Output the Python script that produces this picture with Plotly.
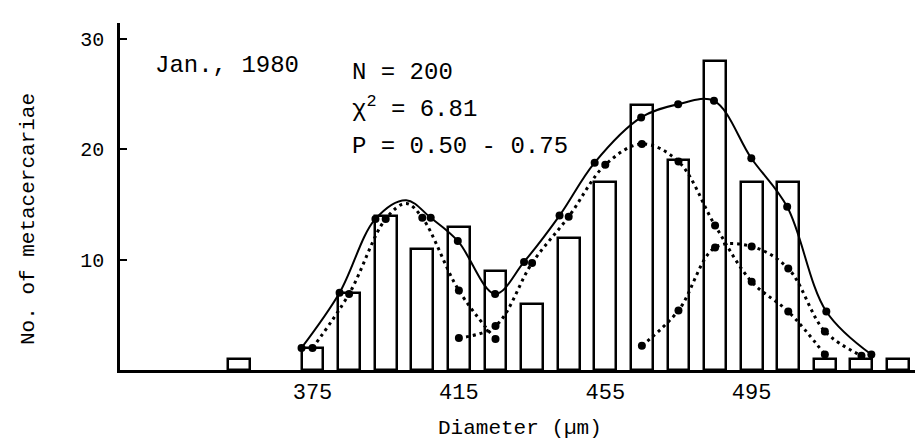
import plotly.graph_objects as go

# ---- data ----
classes = [355, 365, 375, 385, 395, 405, 415, 425, 435, 445, 455, 465, 475, 485, 495, 505, 515, 525, 535]
counts = [1, 0, 2, 7, 14, 11, 13, 9, 6, 12, 17, 24, 19, 28, 17, 17, 1, 1, 1]

# fitted total curve (dots as drawn)
total_x = [372.0, 382.4, 392.2, 407.3, 414.7, 424.9, 432.8, 442.5, 452.1, 464.8, 474.9, 484.7, 494.9, 504.7, 515.4, 527.7]
total_y = [2.0, 7.0, 13.7, 13.8, 11.7, 6.9, 9.8, 14.0, 18.8, 22.9, 24.1, 24.4, 19.2, 14.8, 5.3, 1.4]
total_peak_x = [400.6]
total_peak_y = [15.4]

# component 1
comp1_x = [375, 385, 395, 405, 415, 425]
comp1_y = [2.0, 6.9, 13.7, 13.8, 7.2, 2.8]
comp1_peak_x = [400.6]
comp1_peak_y = [15.1]

# component 2
comp2_x = [415, 425, 435, 445, 455, 465, 475, 485, 495, 505, 515]
comp2_y = [2.9, 4.0, 9.7, 13.9, 18.6, 20.5, 18.9, 13.1, 8.0, 5.3, 1.4]

# component 3
comp3_x = [465, 475, 485, 495, 505, 515, 525]
comp3_y = [2.2, 5.4, 11.1, 11.2, 9.2, 3.5, 1.3]

x_ticks = [375, 415, 455, 495]
y_ticks = [10, 20, 30]


def merged(xs, ys, px, py):
    pts = sorted(list(zip(xs, ys)) + list(zip(px, py)))
    return [p[0] for p in pts], [p[1] for p in pts]


MONO = "Liberation Mono, Courier New, monospace"
fig = go.Figure()

bar_x = [c for c, n in zip(classes, counts) if n > 0]
bar_y = [n for n in counts if n > 0]
fig.add_trace(go.Bar(x=bar_x, y=bar_y, width=6,
                     marker=dict(color="white", line=dict(color="black", width=2.5)),
                     showlegend=False, hoverinfo="skip"))

tcx, tcy = merged(total_x, total_y, total_peak_x, total_peak_y)
fig.add_trace(go.Scatter(x=tcx, y=tcy, mode="lines",
                         line=dict(color="black", width=2, shape="spline", smoothing=1.0),
                         showlegend=False))
fig.add_trace(go.Scatter(x=total_x, y=total_y, mode="markers",
                         marker=dict(color="black", size=8), showlegend=False))

c1x, c1y = merged(comp1_x, comp1_y, comp1_peak_x, comp1_peak_y)
for cx, cy, dx, dy in [(c1x, c1y, comp1_x, comp1_y),
                       (comp2_x, comp2_y, comp2_x, comp2_y),
                       (comp3_x, comp3_y, comp3_x, comp3_y)]:
    fig.add_trace(go.Scatter(x=cx, y=cy, mode="lines",
                             line=dict(color="black", width=3, dash="3px,4px",
                                       shape="spline", smoothing=1.0),
                             showlegend=False))
    fig.add_trace(go.Scatter(x=dx, y=dy, mode="markers",
                             marker=dict(color="black", size=8), showlegend=False))

L, R, T, B = 112, 0, 15, 84
W, H = 923, 446
pw, ph = W - L - R, H - T - B


def px2paper(px, py):
    return (px - L) / pw, (H - B - py) / ph


def note(text, px, py, size=24, xanchor="left"):
    x, y = px2paper(px, py)
    fig.add_annotation(x=x, y=y, xref="paper", yref="paper", text=text,
                       showarrow=False, xanchor=xanchor, yanchor="middle",
                       font=dict(family=MONO, size=size, color="black"))


note("Jan., 1980", 145, 57)
note("N = 200", 342, 64)
note("χ<sup>2</sup> = 6.81", 342, 100)
note("P = 0.50 - 0.75", 342, 138)
note("Diameter (µm)", 512, 420, size=21, xanchor="center")

x, y = px2paper(20, 211)
fig.add_annotation(x=x, y=y, xref="paper", yref="paper", text="No. of metacercariae",
                   showarrow=False, textangle=-90, xanchor="center", yanchor="middle",
                   font=dict(family=MONO, size=21, color="black"))

fig.update_layout(
    width=W, height=H, margin=dict(l=L, r=R, t=T, b=B),
    paper_bgcolor="white", plot_bgcolor="white", bargap=0,
    xaxis=dict(range=[322.4, 544.0], showgrid=False, zeroline=False,
               showline=True, linecolor="black", linewidth=2.5,
               tickvals=x_ticks, ticks="", ticklabelstandoff=0,
               tickfont=dict(family=MONO, size=22, color="black")),
    yaxis=dict(range=[0, 31.46], showgrid=False, zeroline=False,
               showline=True, linecolor="black", linewidth=2.5,
               tickvals=y_ticks, ticks="inside", ticklen=7, tickwidth=2, tickcolor="black",
               ticklabelstandoff=9,
               tickfont=dict(family=MONO, size=20, color="black")),
)

fig.write_html("out.html")
